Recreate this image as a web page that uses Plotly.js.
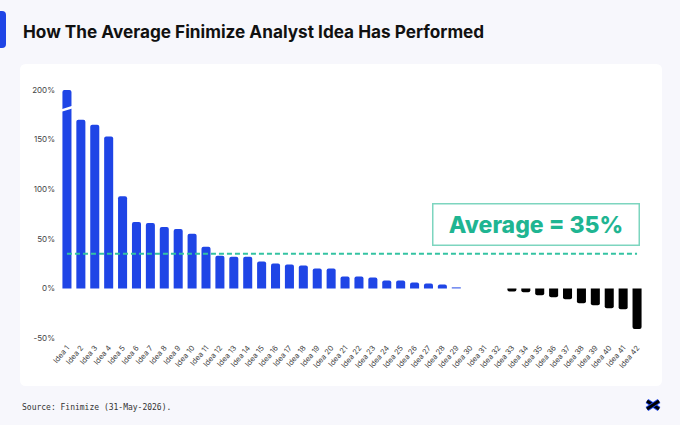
<!DOCTYPE html>
<html>
<head>
<meta charset="utf-8">
<script src="https://cdn.plot.ly/plotly-3.0.1.min.js"></script>
<style>
  html, body { margin: 0; padding: 0; background: #f7f7fc; }
  #chart { width: 680px; height: 425px; }
</style>
</head>
<body>
<div id="chart"></div>
<script>
// ---- data ----
const categories = [
  "Idea 1","Idea 2","Idea 3","Idea 4","Idea 5","Idea 6","Idea 7","Idea 8","Idea 9","Idea 10",
  "Idea 11","Idea 12","Idea 13","Idea 14","Idea 15","Idea 16","Idea 17","Idea 18","Idea 19","Idea 20",
  "Idea 21","Idea 22","Idea 23","Idea 24","Idea 25","Idea 26","Idea 27","Idea 28","Idea 29","Idea 30",
  "Idea 31","Idea 32","Idea 33","Idea 34","Idea 35","Idea 36","Idea 37","Idea 38","Idea 39","Idea 40",
  "Idea 41","Idea 42"
];
// returns in % (Idea 1 is capped at 200% on the chart, with an axis-break mark)
const returns = [
  200, 170, 165, 153, 93, 67, 66, 62, 60, 55,
  42, 33, 32, 32, 27, 25, 24, 23, 20, 20,
  12, 12, 11, 8, 8, 6, 5, 4, 1, 0,
  0, 0, -3, -4, -7, -9, -11, -15, -17, -20,
  -21, -41
];
const averageReturn = 35;
const breakValue = 181;
const yTickVals = [-50, 0, 50, 100, 150, 200];

// ---- layout helpers (pixel -> paper) ----
const W = 680, H = 425, ML = 60, MR = 36, MT = 90, MB = 87;
const PW = W - ML - MR, PH = H - MT - MB;
const px = x => (x - ML) / PW;
const py = y => (H - MB - y) / PH;

function roundRect(x0, y0, x1, y1, r) {
  return `M ${px(x0 + r)},${py(y0)} L ${px(x1 - r)},${py(y0)} Q ${px(x1)},${py(y0)} ${px(x1)},${py(y0 + r)} ` +
         `L ${px(x1)},${py(y1 - r)} Q ${px(x1)},${py(y1)} ${px(x1 - r)},${py(y1)} ` +
         `L ${px(x0 + r)},${py(y1)} Q ${px(x0)},${py(y1)} ${px(x0)},${py(y1 - r)} ` +
         `L ${px(x0)},${py(y0 + r)} Q ${px(x0)},${py(y0)} ${px(x0 + r)},${py(y0)} Z`;
}

const BLUE = "#1f45e6";
const TEAL = "#34c3a2";
const barColors = returns.map(v => v >= 0 ? BLUE : "#000000");

const traces = [{
  type: "bar",
  x: categories,
  y: returns,
  marker: { color: barColors, cornerradius: 2, line: { width: 0 } },
  hoverinfo: "x+y",
  showlegend: false
}];

const layout = {
  width: W, height: H,
  margin: { l: ML, r: MR, t: MT, b: MB, pad: 0 },
  paper_bgcolor: "#f7f7fc",
  plot_bgcolor: "rgba(0,0,0,0)",
  font: { family: "Inter, 'Noto Sans', sans-serif", color: "#333" },
  bargap: 0.35,
  showlegend: false,
  xaxis: {
    type: "category",
    range: [-0.5, categories.length - 0.5],
    tickangle: -50,
    tickfont: { size: 7.5, color: "#444" },
    showgrid: false, zeroline: false, showline: false, ticks: "",
    ticklabelstandoff: 3,
    fixedrange: true
  },
  yaxis: {
    range: [-50, 200],
    tickvals: yTickVals,
    ticktext: yTickVals.map(v => v + "%"),
    tickfont: { size: 8, color: "#444" },
    showgrid: false, zeroline: false, showline: false, ticks: "",
    ticklabelstandoff: 4,
    fixedrange: true
  },
  shapes: [
    // white card
    { type: "path", xref: "paper", yref: "paper", layer: "below",
      path: roundRect(20, 64, 662, 386, 6), fillcolor: "#ffffff", line: { width: 0 } },
    // blue accent on title
    { type: "path", xref: "paper", yref: "paper",
      path: roundRect(-6, 11, 6, 48, 4), fillcolor: BLUE, line: { width: 0 } },
    // average dashed line
    { type: "line", xref: "x", yref: "y", x0: 0, x1: categories.length - 1,
      y0: averageReturn, y1: averageReturn,
      line: { color: TEAL, width: 2, dash: "5px,3px" } },
    // axis-break mark on the first bar
    { type: "line", xref: "x", yref: "y", x0: -0.42, x1: 0.42,
      y0: breakValue - 1.8, y1: breakValue + 1.8,
      line: { color: "#ffffff", width: 2.5 } },
    // small logo
    { type: "line", xref: "paper", yref: "paper", x0: px(647), y0: py(401), x1: px(659), y1: py(409),
      line: { color: "#1f45e6", width: 5 } },
    { type: "line", xref: "paper", yref: "paper", x0: px(647), y0: py(401), x1: px(659), y1: py(409),
      line: { color: "#000", width: 3 } },
    { type: "line", xref: "paper", yref: "paper", x0: px(647), y0: py(409), x1: px(659), y1: py(401),
      line: { color: "#1f45e6", width: 5 } },
    { type: "line", xref: "paper", yref: "paper", x0: px(647), y0: py(409), x1: px(659), y1: py(401),
      line: { color: "#000", width: 3 } }
  ],
  annotations: [
    { xref: "paper", yref: "paper", x: px(21), y: py(31), xanchor: "left", yanchor: "middle",
      text: "How The Average Finimize Analyst Idea Has Performed", showarrow: false,
      font: { family: "Inter, 'Noto Sans', sans-serif", size: 17.2, weight: 700, color: "#111" } },
    { xref: "paper", yref: "paper", x: px(535.5), y: py(224), xanchor: "center", yanchor: "middle",
      text: "Average = " + averageReturn + "%", showarrow: false,
      width: 193, align: "center",
      bgcolor: "#ffffff", bordercolor: "#7dd5bf", borderwidth: 1.5, borderpad: 6,
      font: { family: "Inter, 'Noto Sans', sans-serif", size: 23, weight: 800, color: "#1fb592" } },
    { xref: "paper", yref: "paper", x: px(20), y: py(407), xanchor: "left", yanchor: "middle",
      text: "Source: Finimize (31-May-2026).", showarrow: false,
      font: { family: "'DejaVu Sans Mono', 'Liberation Mono', monospace", size: 8, color: "#333" } }
  ]
};

Plotly.newPlot("chart", traces, layout, { displayModeBar: false, staticPlot: true });
</script>
</body>
</html>
